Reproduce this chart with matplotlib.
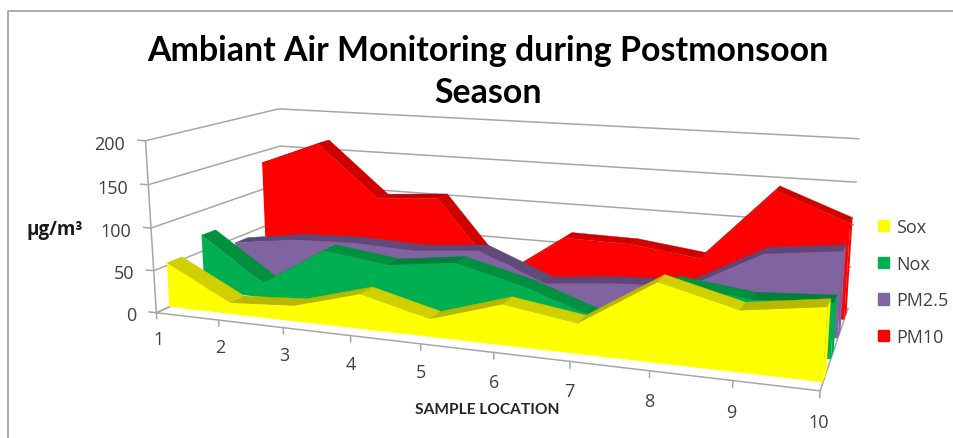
import matplotlib
matplotlib.use("Agg")
from matplotlib import pyplot as plt
from matplotlib.lines import Line2D
from matplotlib.patches import Patch
from mpl_toolkits.mplot3d import proj3d
from mpl_toolkits.mplot3d.art3d import Poly3DCollection

# values
locations = [1, 2, 3, 4, 5, 6, 7, 8, 9, 10]
sox = [53, 13, 18, 40, 20, 45, 33, 85, 64, 76]
nox = [70, 18, 65, 55, 65, 45, 17, 65, 55, 60]
pm25 = [44, 55, 58, 55, 62, 30, 38, 42, 87, 97]
pm10 = [135, 165, 99, 105, 12, 68, 67, 57, 143, 112]
yticks = [0, 50, 100, 150, 200]

W, H = 954, 439
fig = plt.figure(figsize=(W / 100, H / 100), dpi=100)
ax = fig.add_axes([143.6 / W, -149.4 / H, 702.8 / W, 702.8 / H], projection="3d", computed_zorder=False)
ax.set_xlim(1, 10)
ax.set_ylim(0, 4)
ax.set_zlim(0, 200)
ax.set_box_aspect((3.732, 1.463, 1))
ax.view_init(elev=12.785, azim=-69.995, roll=-0.054)
ax.set_proj_type("persp", focal_length=0.329)
ax.set_axis_off()
ax.patch.set_visible(False)

grid = "#a6a6a6"
def gline(xs, ys, zs):
    ax.plot(xs, ys, zs, color=grid, lw=1.1, zorder=1, clip_on=False)

for z in yticks:
    gline([0.88, 1, 1, 10], [0, 0, 4, 4], [z, z, z, z])
gline([1, 10, 10, 1, 1], [0, 0, 4, 4, 0], [0, 0, 0, 0, 0])
gline([1, 1], [0, 0], [0, 200])
for x in locations:
    gline([x, x], [0, 0], [0, -7])

series = [("PM10", pm10, "#ff0000", "#d00000", "#c00000", 3),
          ("PM2.5", pm25, "#8064a2", "#604a7b", "#5c4778", 2),
          ("Nox", nox, "#00b050", "#009040", "#008038", 1),
          ("Sox", sox, "#ffff00", "#d0d000", "#b8b800", 0)]
y_front, depth = 0.35, 0.42
zo = 2
for name, vals, col, light, dark, k in series:
    y0, y1 = k + y_front, k + y_front + depth
    bands = []
    shades = []
    for i in range(len(locations) - 1):
        a, b = locations[i], locations[i + 1]
        bands.append([(a, y0, vals[i]), (b, y0, vals[i + 1]), (b, y1, vals[i + 1]), (a, y1, vals[i])])
        shades.append(light if vals[i + 1] < vals[i] else dark)
    top = Poly3DCollection(bands, facecolors=shades, edgecolors=shades, linewidths=0.3, zorder=zo, clip_on=False)
    ax.add_collection3d(top)
    cap = [(10, y0, 0), (10, y0, vals[-1]), (10, y1, vals[-1]), (10, y1, 0)]
    ax.add_collection3d(Poly3DCollection([cap], facecolors=col, edgecolors="none", zorder=zo + 1, clip_on=False))
    front = [(1, y0, 0)] + [(x, y0, v) for x, v in zip(locations, vals)] + [(10, y0, 0)]
    ax.add_collection3d(Poly3DCollection([front], facecolors=col, edgecolors="none", zorder=zo + 2, clip_on=False))
    zo += 3

# tick labels go through the 3d projection but stay plain 2d texts
M = ax.get_proj()
tick_col = "#404040"
def label3d(x, y, z, s, ha):
    u, v, _ = proj3d.proj_transform(x, y, z, M)
    ax.text2D(u, v, s, transform=ax.transData, ha=ha, va="center", fontsize=13, color=tick_col,
              family="Open Sans", clip_on=False, zorder=30)

for x in locations:
    label3d(x, 0, -32, str(x), "center")
for z in yticks:
    label3d(0.67, 0, z - 5, str(z), "right")

fig.text(488 / W, 1 - 72 / H, "Ambiant Air Monitoring during Postmonsoon\nSeason", ha="center", va="center",
         fontsize=24.4, fontweight="bold", family="Lato", color="black", linespacing=1.38)
fig.text(55 / W, 1 - 230 / H, "µg/m³", ha="center", va="center", fontsize=13.5, fontweight="bold", family="Open Sans", color="#1a1a1a")
fig.text(487 / W, 1 - 410 / H, "SAMPLE LOCATION", ha="center", va="center", fontsize=11.2, fontweight="bold", family="Lato", color="#262626")

handles = [Patch(color=s_[2]) for s_ in series[::-1]]
fig.legend(handles, [s_[0] for s_ in series[::-1]], loc="center left", bbox_to_anchor=(878 / W, 1 - 283 / H),
           frameon=False, borderpad=0, borderaxespad=0, handlelength=0.6, handleheight=0.6, handletextpad=0.4, labelspacing=1.03,
           prop={"family": "Open Sans", "size": 13}, labelcolor=tick_col)

# chart frame, only top and left show in the crop
fig.add_artist(Line2D([8.5 / W, 8.5 / W, 1], [0, 1 - 11.5 / H, 1 - 11.5 / H], transform=fig.transFigure, color="#a6a6a6", lw=1.3))

fig.savefig("out.png", dpi=100)
